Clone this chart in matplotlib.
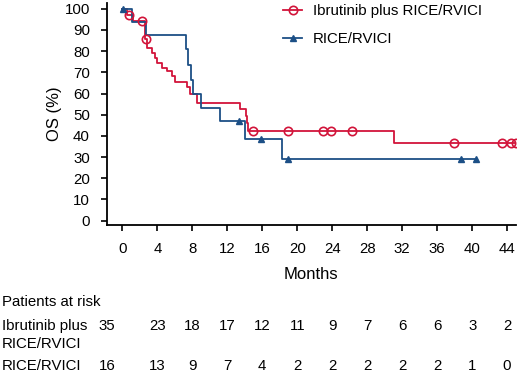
import numpy as np
import matplotlib
matplotlib.use("Agg")
import matplotlib.pyplot as plt
import matplotlib.transforms as mtransforms
from matplotlib.lines import Line2D

plt.rcParams['font.family'] = ['Liberation Sans', 'DejaVu Sans']

# Kaplan-Meier steps (months, OS %)
ibr_times = [0, 0.5, 1.2, 2.6, 2.85, 3.35, 3.73, 3.92, 4.49, 5.06, 5.7, 6.0,
             7.4, 7.7, 8.5, 13.5, 14.1, 14.25, 14.4, 31.1]
ibr_surv = [100, 97.1, 94.3, 85.7, 81.5, 79.0, 76.6, 74.6, 71.9, 70.8, 68.5, 65.2,
            62.9, 60.0, 55.6, 52.9, 49.5, 46.0, 42.4, 36.5]
ibr_end = 45.0
ibr_censor = [0.75, 2.2, 2.7, 14.9, 18.9, 23.0, 23.85, 26.3, 37.9, 43.4, 44.5, 45.0]

ctl_times = [0, 1.1, 2.7, 7.3, 7.5, 7.9, 8.1, 9.05, 11.2, 14.05, 18.3]
ctl_surv = [100, 93.75, 87.5, 81.2, 73.5, 66.5, 60.0, 53.2, 46.8, 38.7, 29.2]
ctl_end = 40.4
ctl_censor = [0.05, 13.3, 15.8, 19.0, 38.7, 40.4]

risk_months = [0, 4, 8, 12, 16, 20, 24, 28, 32, 36, 40, 44]
risk_ibr = [35, 23, 18, 17, 12, 11, 9, 7, 6, 6, 3, 2]
risk_ctl = [16, 13, 9, 7, 4, 2, 2, 2, 2, 2, 1, 0]

labels = ['Ibrutinib plus RICE/RVICI', 'RICE/RVICI']
red = '#d2143a'
blue = '#1c4f86'


def surv_at(times, surv, t):
    idx = np.searchsorted(times, t, side='right') - 1
    return np.array(surv)[idx]


fig = plt.figure(figsize=(5.2, 3.78), dpi=100)
ax = fig.add_axes([0.205, 0.405, 0.787, 0.587])

for times, surv, end, cens, col, mk in [
        (ibr_times, ibr_surv, ibr_end, ibr_censor, red, 'o'),
        (ctl_times, ctl_surv, ctl_end, ctl_censor, blue, '^')]:
    ax.step(list(times) + [end], list(surv) + [surv[-1]], where='post',
            color=col, lw=1.3, zorder=2)
    if mk == 'o':
        ax.plot(cens, surv_at(times, surv, cens), 'o', ms=6, mfc='none',
                mec=col, mew=1.2, zorder=3)
    else:
        ax.plot(cens, surv_at(times, surv, cens), '^', ms=5, color=col, zorder=3)

ax.set_xlim(-1.8, 45.0)
ax.set_ylim(-2, 102.7)
ax.set_xticks(risk_months)
ax.set_yticks(np.arange(0, 101, 10))
for s in ['top', 'right']:
    ax.spines[s].set_visible(False)
for s in ['left', 'bottom']:
    ax.spines[s].set_linewidth(1.3)
ax.tick_params(axis='both', labelsize=10.8, width=1.2, length=4, direction='out')
ax.tick_params(axis='x', pad=8)
ax.tick_params(axis='y', pad=8)
ax.set_xlabel('Months', fontsize=12, labelpad=8)
ax.set_ylabel('OS (%)', fontsize=12, labelpad=2)

handles = [Line2D([], [], color=red, lw=1.3, marker='o', mfc='none', ms=6, mew=1.2),
           Line2D([], [], color=blue, lw=1.3, marker='^', ms=5)]
fig.legend(handles, labels, loc='upper left', bbox_to_anchor=(0.518, 1.025),
           frameon=False, fontsize=10.8, handlelength=1.3, handletextpad=0.7,
           labelspacing=0.95)

# risk table
trans = mtransforms.blended_transform_factory(ax.transData, fig.transFigure)
fs = 10.8
fig.text(0.003, 1 - 302 / 378, 'Patients at risk', fontsize=fs, va='center')
fig.text(0.003, 1 - 326 / 378, 'Ibrutinib plus', fontsize=fs, va='center')
fig.text(0.003, 1 - 344 / 378, 'RICE/RVICI', fontsize=fs, va='center')
fig.text(0.003, 1 - 366 / 378, 'RICE/RVICI', fontsize=fs, va='center')
for m, a, b in zip(risk_months, risk_ibr, risk_ctl):
    xm = m if m > 0 else -1.75
    ax.text(xm, 1 - 326 / 378, str(a), transform=trans, fontsize=fs,
            ha='center', va='center')
    ax.text(xm, 1 - 366 / 378, str(b), transform=trans, fontsize=fs,
            ha='center', va='center')

fig.savefig('out.png', dpi=100)
